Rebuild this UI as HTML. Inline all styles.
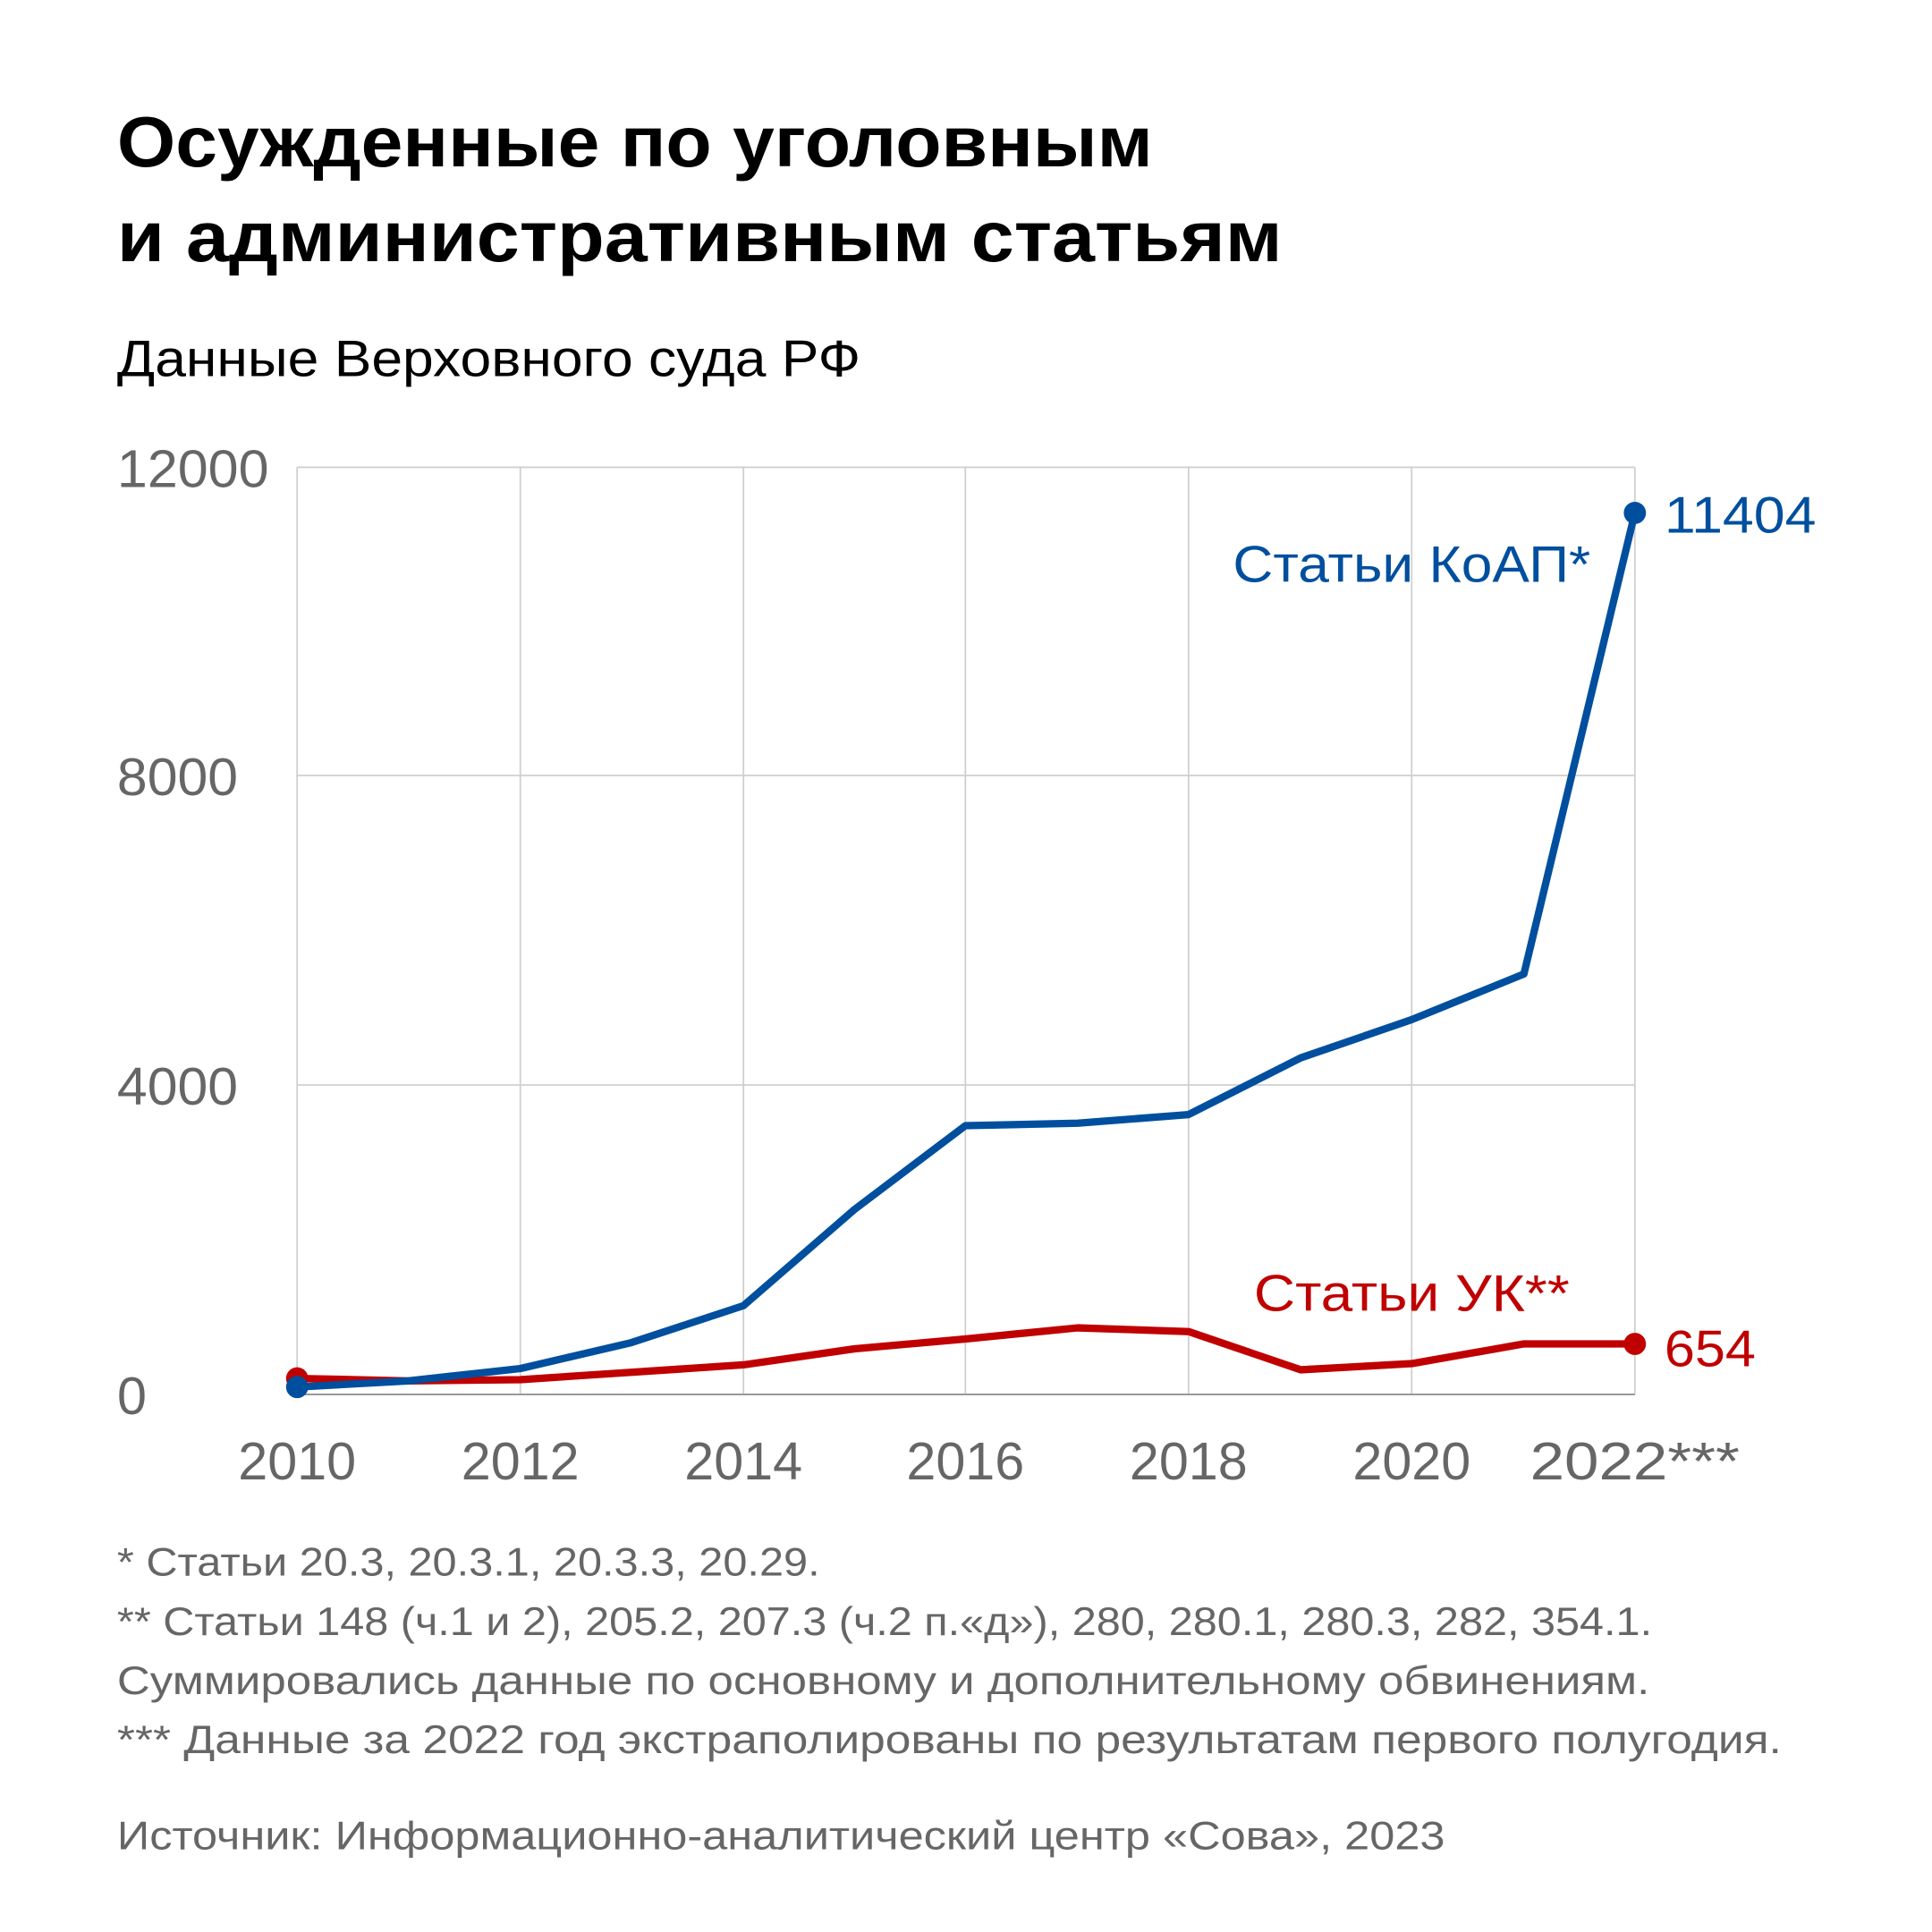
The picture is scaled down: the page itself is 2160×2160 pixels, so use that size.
<!DOCTYPE html>
<html><head><meta charset="utf-8"><style>
html,body{margin:0;padding:0;background:#fff;}
svg{display:block;}
text{font-family:"Liberation Sans","DejaVu Sans",sans-serif;}
</style></head><body>
<svg width="2160" height="2160" viewBox="0 0 1567 1567" xmlns="http://www.w3.org/2000/svg">
<rect width="1567" height="1567" fill="#fff"/>
<text x="95" y="135" font-size="58" font-weight="bold" fill="#000" textLength="840" lengthAdjust="spacingAndGlyphs">Осужденные по уголовным</text>
<text x="95" y="212" font-size="58" font-weight="bold" fill="#000" textLength="945" lengthAdjust="spacingAndGlyphs">и административным статьям</text>
<text x="95" y="305" font-size="42" fill="#000" textLength="603" lengthAdjust="spacingAndGlyphs">Данные Верховного суда РФ</text>
<g stroke="#cfcfcf" stroke-width="1.3" fill="none">
<line x1="241" y1="379" x2="1326" y2="379"/>
<line x1="241" y1="629" x2="1326" y2="629"/>
<line x1="241" y1="880" x2="1326" y2="880"/>
<line x1="241" y1="379" x2="241" y2="1131"/>
<line x1="422" y1="379" x2="422" y2="1131"/>
<line x1="603" y1="379" x2="603" y2="1131"/>
<line x1="783" y1="379" x2="783" y2="1131"/>
<line x1="964" y1="379" x2="964" y2="1131"/>
<line x1="1145" y1="379" x2="1145" y2="1131"/>
<line x1="1326" y1="379" x2="1326" y2="1131"/>
</g>
<line x1="241" y1="1131" x2="1326" y2="1131" stroke="#999" stroke-width="1.5"/>
<g font-size="43" fill="#666">
<text x="95" y="395" textLength="123" lengthAdjust="spacingAndGlyphs">12000</text>
<text x="95" y="645" textLength="98" lengthAdjust="spacingAndGlyphs">8000</text>
<text x="95" y="896" textLength="98" lengthAdjust="spacingAndGlyphs">4000</text>
<text x="95" y="1147">0</text>
<g text-anchor="middle">
<text x="241" y="1200">2010</text>
<text x="422" y="1200">2012</text>
<text x="603" y="1200">2014</text>
<text x="783" y="1200">2016</text>
<text x="964" y="1200">2018</text>
<text x="1145" y="1200">2020</text>
</g>
<text x="1241" y="1200" textLength="170" lengthAdjust="spacingAndGlyphs">2022***</text>
</g>
<polyline fill="none" stroke="#c00000" stroke-width="6" stroke-linejoin="round" points="241,1118 331,1120 422,1119 512,1113 603,1107 693,1094 783,1086 874,1077 964,1080 1055,1111 1145,1106 1236,1090 1326,1090"/>
<polyline fill="none" stroke="#004f9e" stroke-width="6" stroke-linejoin="round" points="241,1125 331,1120 422,1110 512,1089 603,1059 693,981 783,913 874,911 964,904 1055,858 1145,827 1236,790 1326,416"/>
<circle cx="241" cy="1118" r="9" fill="#c00000"/>
<circle cx="1326" cy="1090" r="9" fill="#c00000"/>
<circle cx="241" cy="1125" r="9" fill="#004f9e"/>
<circle cx="1326" cy="416" r="9" fill="#004f9e"/>
<text x="1000" y="472" font-size="42" fill="#004f9e" textLength="290" lengthAdjust="spacingAndGlyphs">Статьи КоАП*</text>
<text x="1350" y="432" font-size="42" fill="#004f9e" textLength="123" lengthAdjust="spacingAndGlyphs">11404</text>
<text x="1017" y="1063" font-size="42" fill="#c00000" textLength="256" lengthAdjust="spacingAndGlyphs">Статьи УК**</text>
<text x="1350" y="1108" font-size="42" fill="#c00000" textLength="74" lengthAdjust="spacingAndGlyphs">654</text>
<g font-size="32" fill="#666">
<text x="95" y="1278" textLength="570" lengthAdjust="spacingAndGlyphs">* Статьи 20.3, 20.3.1, 20.3.3, 20.29.</text>
<text x="95" y="1326" textLength="1245" lengthAdjust="spacingAndGlyphs">** Статьи 148 (ч.1 и 2), 205.2, 207.3 (ч.2 п.«д»), 280, 280.1, 280.3, 282, 354.1.</text>
<text x="95" y="1374" textLength="1243" lengthAdjust="spacingAndGlyphs">Суммировались данные по основному и дополнительному обвинениям.</text>
<text x="95" y="1422" textLength="1350" lengthAdjust="spacingAndGlyphs">*** Данные за 2022 год экстраполированы по результатам первого полугодия.</text>
<text x="95" y="1500" textLength="1077" lengthAdjust="spacingAndGlyphs">Источник: Информационно-аналитический центр «Сова», 2023</text>
</g>
</svg>
</body></html>
